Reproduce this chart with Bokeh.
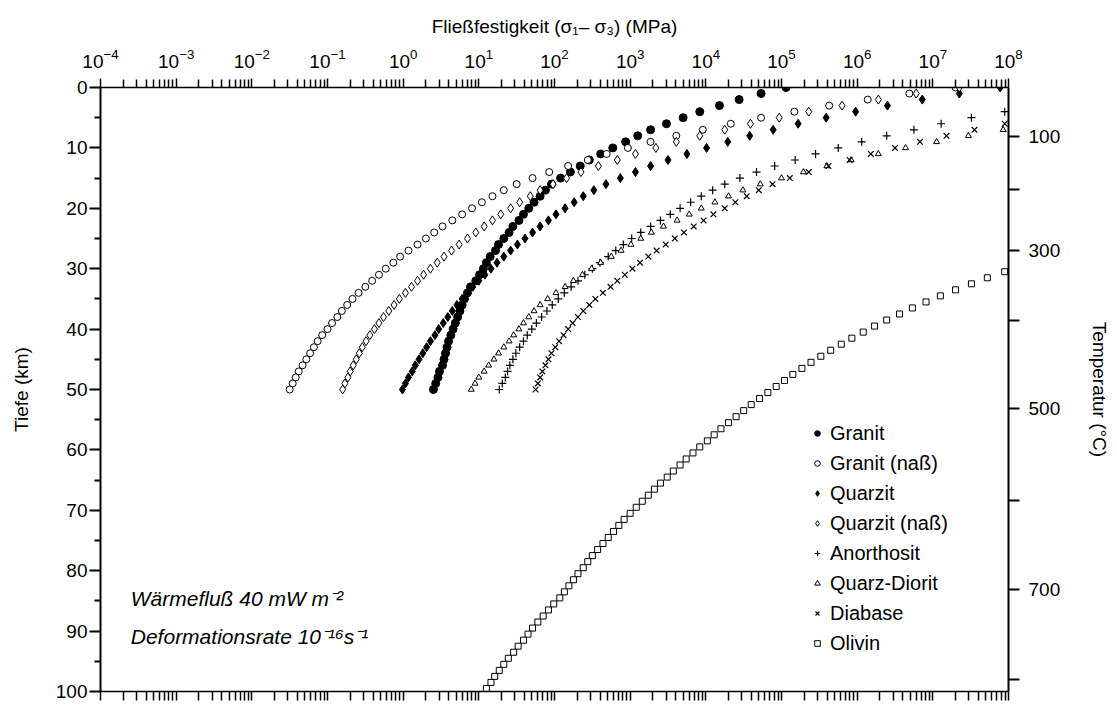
from bokeh.plotting import figure
from bokeh.models import (LogAxis, LinearAxis, FixedTicker, LogTickFormatter,
                          CustomJSTickFormatter, Legend, LegendItem, Label)
from bokeh.embed import file_html
from bokeh.resources import INLINE

# ---------------- data (log10 of strength in MPa, one value per km depth) ----------------
depth_crust = list(range(0, 51))

granit_log = [5.06, 4.73, 4.44, 4.18, 3.92, 3.70, 3.48, 3.27, 3.10, 2.94, 2.77, 2.61, 2.46,
              2.34, 2.21, 2.08, 1.96, 1.88, 1.81, 1.73, 1.66, 1.59, 1.53, 1.45, 1.40, 1.33,
              1.26, 1.22, 1.15, 1.10, 1.06, 1.01, 0.96, 0.89, 0.85, 0.81, 0.78, 0.75, 0.72,
              0.69, 0.66, 0.63, 0.60, 0.58, 0.56, 0.54, 0.52, 0.48, 0.46, 0.43, 0.40]

granit_nass_log = [7.30, 6.69, 6.14, 5.63, 5.17, 4.73, 4.33, 3.96, 3.61, 3.27, 2.97, 2.69, 2.44,
                   2.18, 1.93, 1.71, 1.50, 1.33, 1.18, 1.04, 0.91, 0.78, 0.65, 0.52, 0.41, 0.30,
                   0.19, 0.07, -0.04, -0.13, -0.23, -0.32, -0.41, -0.50, -0.59, -0.67, -0.74,
                   -0.81, -0.87, -0.94, -1.00, -1.07, -1.13, -1.18, -1.23, -1.28, -1.33, -1.38,
                   -1.42, -1.46, -1.50]

quarzit_log = [7.89, 7.35, 6.86, 6.40, 5.98, 5.59, 5.22, 4.89, 4.58, 4.29, 4.01, 3.75, 3.50,
               3.27, 3.07, 2.87, 2.68, 2.52, 2.38, 2.26, 2.14, 2.02, 1.92, 1.81, 1.71, 1.61,
               1.51, 1.42, 1.33, 1.24, 1.16, 1.08, 1.00, 0.92, 0.85, 0.78, 0.71, 0.65, 0.59,
               0.53, 0.47, 0.42, 0.36, 0.31, 0.26, 0.21, 0.16, 0.12, 0.07, 0.03, -0.01]

quarzit_nass_log = [7.35, 6.78, 6.28, 5.80, 5.36, 4.97, 4.59, 4.25, 3.92, 3.61, 3.34, 3.07, 2.83,
                    2.58, 2.35, 2.16, 1.98, 1.81, 1.68, 1.54, 1.42, 1.29, 1.18, 1.07, 0.96, 0.85,
                    0.74, 0.64, 0.54, 0.45, 0.36, 0.27, 0.19, 0.11, 0.03, -0.05, -0.12, -0.19,
                    -0.26, -0.32, -0.38, -0.44, -0.49, -0.54, -0.58, -0.62, -0.66, -0.70, -0.73,
                    -0.77, -0.80]

depth_anorthosit = list(range(4, 51))
anorthosit_log = [7.95, 7.51, 7.11, 6.75, 6.39, 6.06, 5.75, 5.45, 5.18, 4.91, 4.67, 4.45, 4.25,
                  4.09, 3.94, 3.80, 3.66, 3.53, 3.40, 3.27, 3.14, 3.02, 2.91, 2.81, 2.71, 2.60,
                  2.50, 2.40, 2.31, 2.22, 2.13, 2.05, 1.97, 1.90, 1.83, 1.76, 1.70, 1.64, 1.59,
                  1.54, 1.49, 1.45, 1.41, 1.38, 1.35, 1.31, 1.27]

depth_diorit = list(range(7, 51))
diorit_log = [7.93, 7.47, 7.05, 6.64, 6.28, 5.92, 5.60, 5.29, 5.00, 4.72, 4.49, 4.30, 4.12,
              3.94, 3.78, 3.62, 3.44, 3.28, 3.14, 3.01, 2.88, 2.75, 2.61, 2.49, 2.37, 2.25,
              2.14, 2.02, 1.91, 1.81, 1.73, 1.66, 1.59, 1.53, 1.46, 1.40, 1.33, 1.26, 1.20,
              1.13, 1.07, 1.00, 0.95, 0.90]

depth_diabase = list(range(6, 51))
diabase_log = [7.95, 7.55, 7.18, 6.83, 6.50, 6.18, 5.90, 5.62, 5.36, 5.11, 4.88, 4.70, 4.54,
               4.39, 4.25, 4.10, 3.97, 3.84, 3.71, 3.59, 3.47, 3.35, 3.24, 3.13, 3.03, 2.93,
               2.83, 2.74, 2.64, 2.54, 2.46, 2.38, 2.31, 2.24, 2.18, 2.12, 2.06, 2.01, 1.96,
               1.92, 1.88, 1.84, 1.81, 1.78, 1.75]

olivin_log = [7.95, 7.72, 7.51, 7.30, 7.10, 6.91, 6.73, 6.56, 6.39, 6.23, 6.08, 5.93, 5.79,
              5.65, 5.52, 5.39, 5.27, 5.15, 5.04, 4.93, 4.82, 4.71, 4.60, 4.50, 4.40, 4.30,
              4.20, 4.11, 4.02, 3.92, 3.83, 3.74, 3.66, 3.57, 3.49, 3.40, 3.32, 3.24, 3.16,
              3.08, 3.00, 2.92, 2.85, 2.78, 2.71, 2.64, 2.57, 2.50, 2.44, 2.38, 2.31, 2.25,
              2.19, 2.13, 2.07, 1.99, 1.92, 1.85, 1.78, 1.71, 1.65, 1.59, 1.52, 1.46, 1.39,
              1.33, 1.27, 1.21, 1.16, 1.10]
depth_olivin = [30.5 + i for i in range(len(olivin_log))]

# temperature axis: depth (km) of each isotherm
temp_labels = ["100", "", "300", "", "500", "", "700", ""]
temp_depths = [8.1, 16.9, 27.0, 38.5, 53.2, 68.3, 83.1, 98.0]

depth_ticks = list(range(0, 101, 10))
depth_minor = list(range(5, 100, 10))
decades = list(range(-4, 9))

FONT = "Liberation Sans"
TICK_FS = "19px"
TITLE_FS = "19px"
INK = "black"


def mpa(logs):
    return [10.0 ** v for v in logs]


p = figure(width=1117, height=706, x_axis_type="log", x_range=(1e-4, 1e8),
           y_range=(100, 0), x_axis_location="above", output_backend="svg",
           toolbar_location=None, min_border_left=100, min_border_right=109,
           min_border_top=87, min_border_bottom=15)
p.outline_line_color = None
p.xgrid.visible = False
p.ygrid.visible = False
p.background_fill_color = "white"
p.border_fill_color = "white"

major_x = [10.0 ** k for k in decades]
minor_x = [m * 10.0 ** k for k in decades[:-1] for m in range(2, 10)]


def style_axis(ax):
    ax.axis_label_text_font = FONT
    ax.axis_label_text_font_size = TITLE_FS
    ax.axis_label_text_font_style = "normal"
    ax.axis_label_text_color = INK
    ax.major_label_text_font = FONT
    ax.major_label_text_font_size = TICK_FS
    ax.major_label_text_color = INK
    ax.axis_line_color = INK
    ax.major_tick_line_color = INK
    ax.minor_tick_line_color = INK
    ax.major_tick_in = 0
    ax.minor_tick_in = 0


# top axis
xa = p.xaxis[0]
style_axis(xa)
xa.ticker = FixedTicker(ticks=major_x, minor_ticks=minor_x)
xa.formatter = LogTickFormatter()
xa.axis_label = "Fließfestigkeit (σ₁– σ₃) (MPa)"
xa.axis_label_standoff = 9
xa.major_label_standoff = 11
xa.major_tick_out = 9
xa.minor_tick_out = 8
xa.axis_line_width = 1.5
xa.major_tick_line_width = 1.5
xa.minor_tick_line_width = 1.5

# bottom axis (ticks only)
xb = LogAxis(ticker=FixedTicker(ticks=major_x, minor_ticks=minor_x),
             formatter=CustomJSTickFormatter(code="return ''"))
style_axis(xb)
xb.major_tick_out = 9
xb.minor_tick_out = 9
xb.major_label_standoff = 0
xb.axis_line_width = 1.5
xb.major_tick_line_width = 1.5
xb.minor_tick_line_width = 1.5
p.add_layout(xb, "below")

# left axis
ya = p.yaxis[0]
style_axis(ya)
ya.ticker = FixedTicker(ticks=depth_ticks, minor_ticks=depth_minor)
ya.axis_label = "Tiefe (km)"
ya.axis_label_standoff = 21
ya.major_label_standoff = 2
ya.major_tick_out = 11
ya.minor_tick_out = 6
ya.axis_line_width = 2
ya.major_tick_line_width = 2
ya.minor_tick_line_width = 2

# right axis (temperature)
yr = LinearAxis(ticker=FixedTicker(ticks=temp_depths, minor_ticks=[]),
                major_label_overrides={d: t for d, t in zip(temp_depths, temp_labels)})
style_axis(yr)
yr.axis_label = "Temperatur (°C)"
yr.axis_label_standoff = 26
yr.major_label_standoff = 9
yr.major_tick_out = 11
yr.minor_tick_out = 0
yr.axis_line_width = 2
yr.major_tick_line_width = 2
p.add_layout(yr, "right")

# series
r_gr = p.scatter(mpa(granit_log), depth_crust, marker="circle", size=8,
                 fill_color="black", line_color="black")
r_grn = p.scatter(mpa(granit_nass_log), depth_crust, marker="circle", size=7,
                  fill_color="white", line_color="black", line_width=1)
r_qz = p.scatter(mpa(quarzit_log), depth_crust, marker="diamond", size=9,
                 fill_color="black", line_color="black")
r_qzn = p.scatter(mpa(quarzit_nass_log), depth_crust, marker="diamond", size=9,
                  fill_color="white", line_color="black", line_width=1)
r_an = p.scatter(mpa(anorthosit_log), depth_anorthosit, marker="cross", size=8,
                 line_color="black", line_width=1.2)
r_qd = p.scatter(mpa(diorit_log), depth_diorit, marker="triangle", size=6,
                 fill_color="white", line_color="black", line_width=1)
r_db = p.scatter(mpa(diabase_log), depth_diabase, marker="x", size=8,
                 line_color="black", line_width=1.2)
r_ol = p.scatter(mpa(olivin_log), depth_olivin, marker="square", size=6,
                 fill_color="white", line_color="black", line_width=1)

legend = Legend(items=[
    LegendItem(label="Granit", renderers=[r_gr]),
    LegendItem(label="Granit (naß)", renderers=[r_grn]),
    LegendItem(label="Quarzit", renderers=[r_qz]),
    LegendItem(label="Quarzit (naß)", renderers=[r_qzn]),
    LegendItem(label="Anorthosit", renderers=[r_an]),
    LegendItem(label="Quarz-Diorit", renderers=[r_qd]),
    LegendItem(label="Diabase", renderers=[r_db]),
    LegendItem(label="Olivin", renderers=[r_ol]),
], location=(710, 33))
legend.glyph_width = 14
legend.glyph_height = 30
legend.label_height = 30
legend.label_standoff = 6
legend.spacing = 0
legend.padding = 0
legend.margin = 0
legend.border_line_color = None
legend.background_fill_alpha = 0
legend.label_text_font = FONT
legend.label_text_font_size = "20px"
legend.label_text_color = INK
legend.label_text_baseline = "middle"
p.add_layout(legend)

# annotations
p.add_layout(Label(x=10 ** -3.6, y=84.6, text="Wärmefluß 40 mW m⁻²",
                   text_font=FONT, text_font_size="21px", text_font_style="italic",
                   text_baseline="middle", text_color=INK))
p.add_layout(Label(x=10 ** -3.6, y=90.9, text="Deformationsrate 10⁻¹⁶s⁻¹",
                   text_font=FONT, text_font_size="21px", text_font_style="italic",
                   text_baseline="middle", text_color=INK))

open("out.html", "w").write(file_html(p, INLINE))
